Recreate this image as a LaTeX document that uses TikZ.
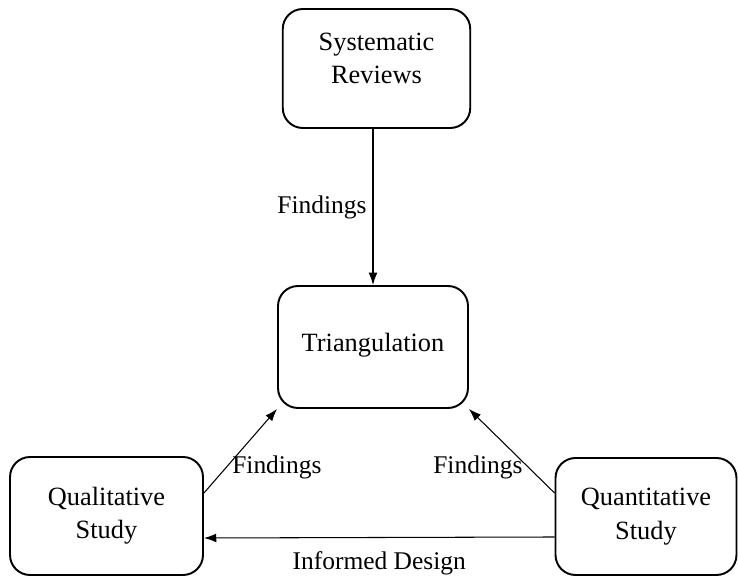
\documentclass[tikz,border=0pt]{standalone}
\usepackage{fontspec}
\setmainfont{Liberation Serif}
\usetikzlibrary{positioning, arrows.meta}

\begin{document}
\begin{tikzpicture}[x=0.02cm, y=-0.02cm, >={Latex[length=7pt,width=5pt]},
    boite/.style={draw, line width=1.1pt, rounded corners=0.4cm, align=center,
      font=\fontsize{15}{19}\selectfont, minimum width=3.75cm, minimum height=2.38cm},
    lien/.style={->, line width=0.6pt},
    etiq/.style={font=\fontsize{14.5}{17}\selectfont}]

    \useasboundingbox (0,0) rectangle (738,577);

    % Les boites
    \node[boite, label={[align=center, font=\fontsize{15}{19}\selectfont, yshift=0.2cm]center:Systematic\\Reviews}] (SR) at (376.5,68.5) {};
    \node[boite, minimum width=3.8cm, minimum height=2.44cm, text depth=0.2cm] (T) at (373,347) {Triangulation};
    \node[boite, minimum width=3.86cm, minimum height=2.36cm] (QL) at (106.5,516) {Qualitative\\Study};
    \node[boite, minimum width=3.62cm, minimum height=2.34cm] (QN) at (646,516.5) {Quantitative\\Study};

    % Les fleches
    \path[lien]
    (SR.south -| T.north) edge node[etiq, midway, left]{Findings} (T.north)
    ([yshift=0.46cm]QL.east) edge node[etiq, pos=0.3, right]{Findings} (T.south west)
    ([yshift=0.47cm]QN.west) edge node[etiq, pos=0.3, left]{Findings} (T.south east)
    ([yshift=-0.41cm]QN.west) edge node[etiq, below, yshift=-0.15cm]{Informed Design} ([yshift=-0.44cm]QL.east);

\end{tikzpicture}
\end{document}
